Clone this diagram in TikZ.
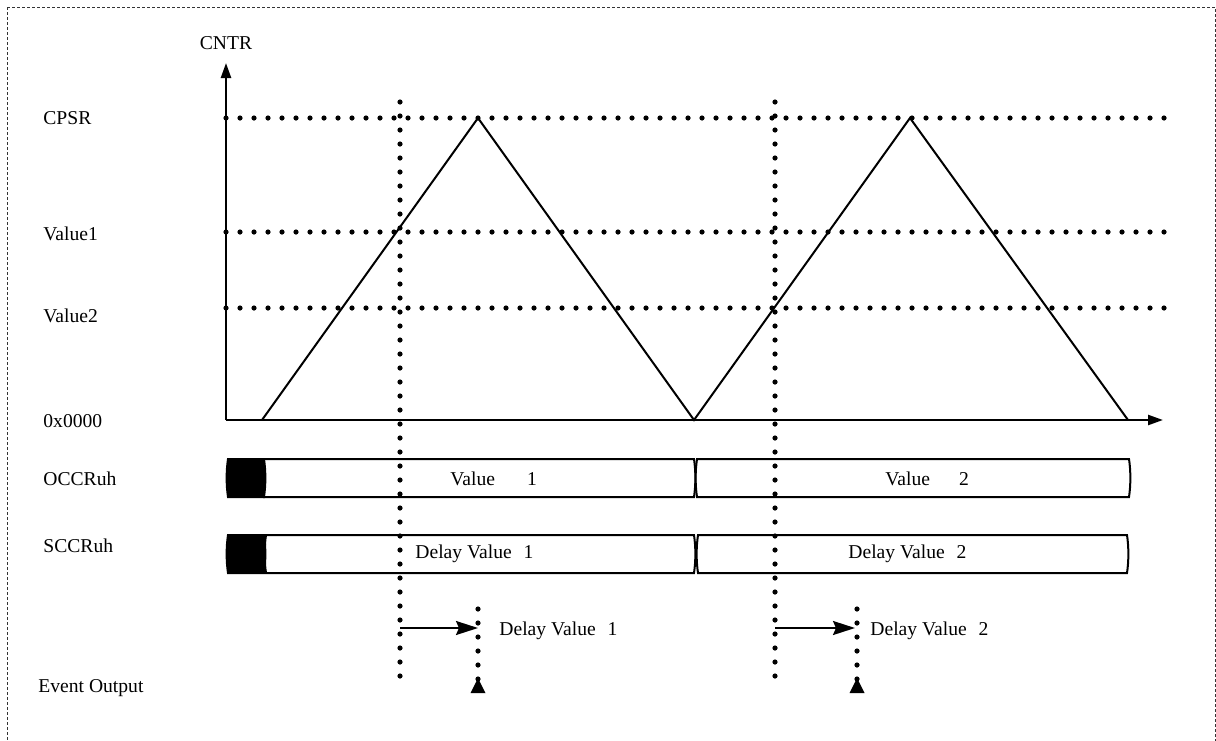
\documentclass[tikz,border=0pt]{standalone}
\usepackage{fontspec}
\setmainfont{Liberation Serif}
\usetikzlibrary{positioning,arrows.meta}
\newcommand{\busseg}[5][draw]{% x1, x2, top, bottom
  \path[#1] (#2,#4) -- (#3,#4) .. controls (#3+1.8,#4+12) and (#3+1.8,#5-12) .. (#3,#5)
    -- (#2,#5) .. controls (#2-1.8,#5-12) and (#2-1.8,#4+12) .. (#2,#4) -- cycle;}

\begin{document}
\begin{tikzpicture}[
  x=0.5pt, y=-0.5pt,
  lab/.style={anchor=base west, inner sep=0pt, font=\fontsize{9.8}{12}\selectfont},
  axis/.style={line width=1.2pt, -{Triangle[length=7.5pt, width=5pt]}},
  dots/.style={line width=2.6pt, line cap=round, dash pattern=on 0pt off 7pt},
  wave/.style={line width=1pt},
  bus/.style={draw, line width=1pt},
  blk/.style={fill=black, draw, line width=1pt},
  evt/.style={-{Stealth[length=11pt, width=7pt, inset=1.5pt]}, line width=1pt},
  frame/.style={line width=0.5pt, dash pattern=on 1.5pt off 1pt, black!80}
]
\useasboundingbox (0,0) rectangle (1216,740);
\draw[frame] (7,7) rectangle (1215,748);

% signal names
\node[lab, anchor=base] (lcntr) at (226,49) {CNTR};
\node[lab] (lcpsr) at (43,124) {CPSR};
\node[lab] (lval1) at (43,240) {Value1};
\node[lab] (lval2) at (43,322) {Value2};
\node[lab] (lzero) at (43,427) {0x0000};
\node[lab] (locc) at (43,485) {OCCRuh};
\node[lab] (lscc) at (43,552) {SCCRuh};
\node[lab] (levt) at (38,692) {Event Output};

% compare levels and trigger instants
\foreach \yy in {118,232,308}
  \draw[dots] (226,\yy) -- (1170,\yy);
\foreach \xx in {400,775}
  \draw[dots] (\xx,102) -- (\xx,690);

% counter
\coordinate (org) at (226,420);
\draw[axis] (org) -- (226,63);
\draw[axis] (org) -- (1163,420);
\draw[wave] (262,420) -- (478,118) -- (694,420) -- (910,118) -- (1128,420);

% register contents
\busseg[blk]{228}{264}{459}{497}
\busseg[bus]{264}{694}{459}{497}
\busseg[bus]{697}{1129}{459}{497}
\busseg[blk]{228}{264}{535}{573}
\busseg[bus]{266}{694}{535}{573}
\busseg[bus]{698}{1127}{535}{573}
\node[lab] (occ1) at (450,485) {Value\hspace{16pt}1};
\node[lab] (occ2) at (885,485) {Value\hspace{14.5pt}2};
\node[lab] (scc1) at (415,558) {Delay Value\hspace{6pt}1};
\node[lab] (scc2) at (848,558) {Delay Value\hspace{6pt}2};

% delayed events
\coordinate (d1s) at (400,628);
\coordinate (d1e) at (478,628);
\coordinate (d2s) at (775,628);
\coordinate (d2e) at (855,628);
\draw[evt] (d1s) -- (d1e);
\draw[evt] (d2s) -- (d2e);
\draw[dots] (478,609) -- (478,680);
\draw[dots] (857,609) -- (857,680);
\fill (478,678) -- (485.5,693) -- (470.5,693) -- cycle;
\fill (857,678) -- (864.5,693) -- (849.5,693) -- cycle;
\node[lab] (dly1) at (499,635) {Delay Value\hspace{6pt}1};
\node[lab] (dly2) at (870,635) {Delay Value\hspace{6pt}2};
\end{tikzpicture}
\end{document}
